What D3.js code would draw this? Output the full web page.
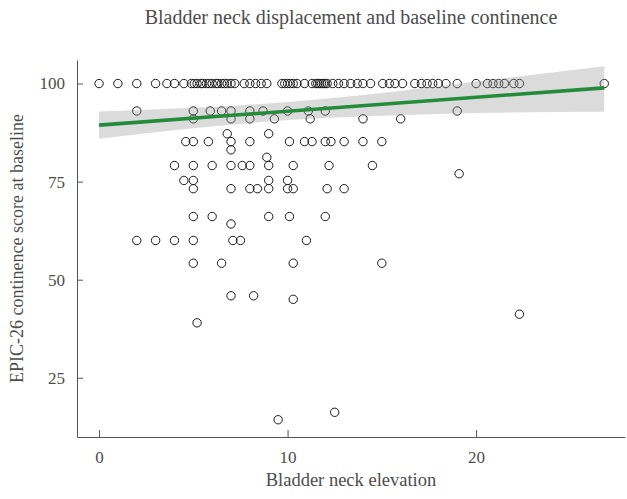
<!DOCTYPE html>
<html>
<head>
<meta charset="utf-8">
<script src="https://cdn.jsdelivr.net/npm/d3@7"></script>
<style>
  body { margin: 0; background: #fff; }
  svg { display: block; font-family: "Liberation Serif", "DejaVu Serif", serif; }
  .axis path, .axis line { stroke: #555; }
  .axis text { fill: #4d4d4d; font-size: 17px; font-family: "Liberation Serif", serif; }
</style>
</head>
<body>
<div id="chart"></div>
<script>
// each row: continence score, then the bladder neck elevations at that score
const scoreRows = [
  [100, [0, 1.0, 2.0, 3.0, 3.6, 4.0, 4.5, 4.9, 5.05, 5.2, 5.4, 5.5, 5.7, 5.85, 6.0, 6.2, 6.3, 6.5, 6.65, 6.8, 7.0, 7.2, 7.7, 8.0, 8.3, 8.6, 8.9, 9.7, 9.85, 10.0, 10.15, 10.3, 10.5, 10.9, 11.3, 11.5, 11.6, 11.7, 11.8, 11.9, 12.0, 12.1, 12.4, 12.7, 13.0, 13.35, 13.7, 14.0, 14.4, 15.05, 15.4, 15.7, 16.1, 16.75, 17.1, 17.4, 17.7, 18.0, 18.4, 19.0, 20.0, 20.6, 20.9, 21.2, 21.5, 22.0, 22.3, 26.8]],
  [93, [2.0, 5.0, 5.9, 6.5, 7.0, 8.0, 8.7, 10.0, 11.1, 12.0, 19.0]],
  [91, [5.0, 7.0, 8.0, 9.3, 11.2, 14.0, 16.0]],
  [87.2, [6.8, 9.0]],
  [85.2, [4.6, 5.0, 5.8, 7.0, 8.0, 10.1, 10.9, 11.3, 12.0, 12.3, 13.0, 14.0, 15.0]],
  [83.1, [7.0]],
  [81.2, [8.9]],
  [79.1, [4.0, 5.0, 6.0, 7.0, 7.6, 8.0, 9.0, 10.3, 12.2, 14.5]],
  [77.0, [19.1]],
  [75.3, [4.5, 5.0, 9.0, 10.0]],
  [73.2, [5.0, 7.0, 8.0, 8.4, 9.0, 10.0, 10.3, 12.1, 13.0]],
  [66.1, [5.0, 6.0, 9.0, 10.1, 12.0]],
  [64.2, [7.0]],
  [60.0, [2.0, 3.0, 4.0, 5.0, 7.1, 7.5, 11.0]],
  [54.2, [5.0, 6.5, 10.3, 15.0]],
  [45.9, [7.0, 8.2]],
  [45.0, [10.3]],
  [41.2, [22.3]],
  [39.0, [5.2]],
  [16.2, [12.5]],
  [14.3, [9.5]]
];

// linear fit and its confidence band
const fitX = [0, 26.8];
const fitY = [89.4, 98.9];
const bandX = [0, 5, 10, 15, 20, 26.8];
const bandLow = [85.9, 88.6, 90.7, 91.8, 92.5, 92.8];
const bandHigh = [92.9, 93.8, 95.3, 97.6, 100.5, 104.4];

const xTicks = [0, 10, 20];
const yTicks = [25, 50, 75, 100];

const points = scoreRows.flatMap(([score, xs]) => xs.map(x => ({ x, y: score })));

const W = 627, H = 499;
const margin = { top: 60, right: 2, bottom: 62, left: 77 };
const width = W - margin.left - margin.right;
const height = H - margin.top - margin.bottom;

const svg = d3.select("#chart").append("svg")
  .attr("width", W)
  .attr("height", H);

const g = svg.append("g").attr("transform", `translate(${margin.left},${margin.top})`);

const x = d3.scaleLinear().domain([-1.17, 27.9]).range([0, width]);
const y = d3.scaleLinear().domain([9.9, 106]).range([height, 0]);

g.append("g")
  .attr("class", "axis")
  .attr("transform", `translate(0,${height})`)
  .call(d3.axisBottom(x).tickValues(xTicks).tickSizeInner(-7).tickSizeOuter(0).tickPadding(14))
  .call(a => a.selectAll("text").attr("dy", "0.71em"));

g.append("g")
  .attr("class", "axis")
  .call(d3.axisLeft(y).tickValues(yTicks).tickSizeInner(-6).tickSizeOuter(0).tickPadding(12));

g.selectAll(".pt")
  .data(points)
  .join("circle")
  .attr("class", "pt")
  .attr("cx", d => x(d.x))
  .attr("cy", d => y(d.y))
  .attr("r", 4.2)
  .attr("fill", "none")
  .attr("stroke", "#1a1a1a")
  .attr("stroke-width", 1);

const band = bandX.map((v, i) => ({ x: v, lo: bandLow[i], hi: bandHigh[i] }));
g.append("path")
  .datum(band)
  .attr("fill", "#999")
  .attr("fill-opacity", 0.35)
  .attr("d", d3.area().x(d => x(d.x)).y0(d => y(d.lo)).y1(d => y(d.hi)).curve(d3.curveMonotoneX));

g.append("path")
  .datum(fitX.map((v, i) => ({ x: v, y: fitY[i] })))
  .attr("fill", "none")
  .attr("stroke", "#238b3a")
  .attr("stroke-width", 3.6)
  .attr("d", d3.line().x(d => x(d.x)).y(d => y(d.y)));

svg.append("text")
  .attr("x", margin.left + width / 2)
  .attr("y", 24)
  .attr("text-anchor", "middle")
  .style("font-size", "20px")
  .style("fill", "#4d4d4d")
  .text("Bladder neck displacement and baseline continence");

svg.append("text")
  .attr("x", margin.left + width / 2)
  .attr("y", 486)
  .attr("text-anchor", "middle")
  .style("font-size", "18.5px")
  .style("fill", "#4d4d4d")
  .text("Bladder neck elevation");

svg.append("text")
  .attr("transform", `translate(23,${margin.top + height / 2}) rotate(-90)`)
  .attr("text-anchor", "middle")
  .style("font-size", "18px")
  .style("fill", "#4d4d4d")
  .text("EPIC-26 continence score at baseline");
</script>
</body>
</html>
